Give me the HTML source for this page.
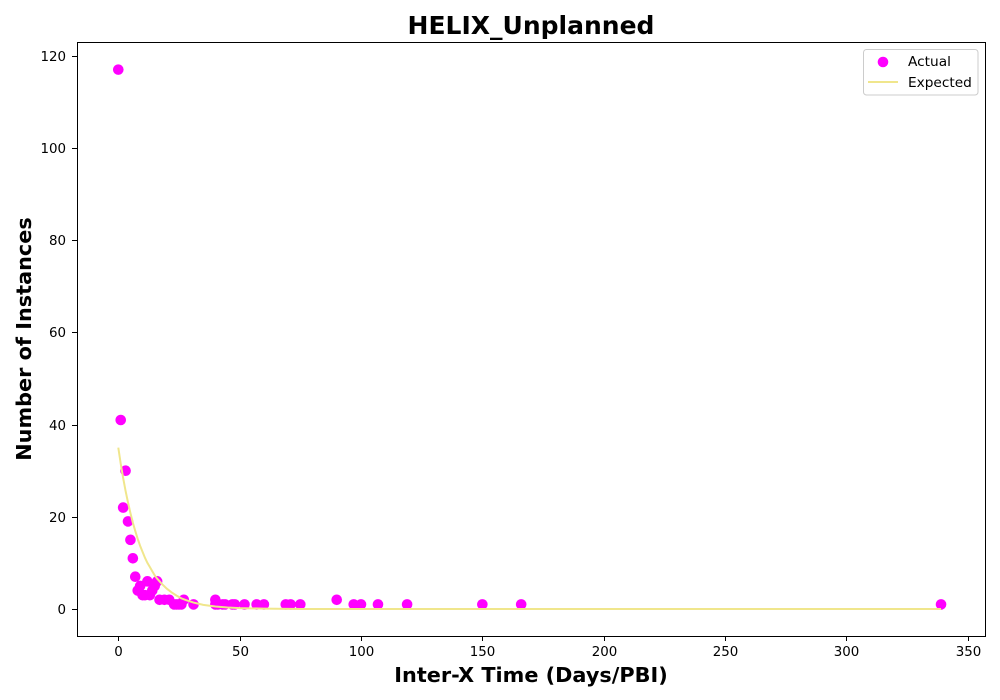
<!DOCTYPE html>
<html lang="en">
<head>
<meta charset="utf-8">
<title>HELIX_Unplanned</title>
<style>
html,body{margin:0;padding:0;background:#fff;}
body{width:1000px;height:700px;overflow:hidden;}
svg{display:block;font-family:"DejaVu Sans","Liberation Sans",sans-serif;}
</style>
</head>
<body>
<svg id="chart" xmlns="http://www.w3.org/2000/svg" width="1000" height="700" viewBox="0 0 1000 700">
  <rect x="0" y="0" width="1000" height="700" fill="#ffffff"/>
  <text x="531" y="34" font-size="25px" font-weight="700" text-anchor="middle" fill="#000">HELIX_Unplanned</text>
  <text x="531" y="682" font-size="20.8px" font-weight="700" text-anchor="middle" fill="#000">Inter-X Time (Days/PBI)</text>
  <text transform="translate(31,339) rotate(-90)" font-size="20.8px" font-weight="700" text-anchor="middle" fill="#000">Number of Instances</text>
  <g id="x-ticks"></g>
  <g id="y-ticks"></g>
  <g id="actual-series"></g>
  <polyline id="expected-line" fill="none" stroke="#f0e68c" stroke-width="2"/>
  <rect x="77.5" y="42.5" width="908" height="594" fill="none" stroke="#000" stroke-width="1" shape-rendering="crispEdges"/>
  <g>
    <rect x="863.5" y="49.5" width="114.5" height="45.5" rx="3" ry="3" fill="#ffffff" fill-opacity="0.8" stroke="#cccccc" stroke-width="1"/>
    <circle cx="883" cy="62" r="5.3" fill="#ff00ff"/>
    <text x="908" y="66" font-size="13.7px" fill="#000">Actual</text>
    <line x1="868" y1="82" x2="898" y2="82" stroke="#f0e68c" stroke-width="2"/>
    <text x="908" y="87" font-size="13.7px" fill="#000">Expected</text>
  </g>
</svg>
<script>
const xTickLabels = [0, 50, 100, 150, 200, 250, 300, 350];
const yTickLabels = [0, 20, 40, 60, 80, 100, 120];
const actualX = [0, 1, 2, 3, 4, 5, 6, 7, 8, 9, 10, 11, 12, 13, 14, 15, 16, 17, 19, 21, 23, 24, 25, 26, 27, 31, 40, 40, 41, 43, 44, 47, 48, 52, 57, 60, 69, 71, 75, 90, 97, 100, 107, 119, 150, 166, 339];
const actualY = [117, 41, 22, 30, 19, 15, 11, 7, 4, 5, 3, 3, 6, 3, 4, 5, 6, 2, 2, 2, 1, 1, 1, 1, 2, 1, 1, 2, 1, 1, 1, 1, 1, 1, 1, 1, 1, 1, 1, 2, 1, 1, 1, 1, 1, 1, 1];
const expectedX = [0, 1, 2, 3, 4, 5, 6, 7, 8, 9, 10, 11, 12, 13, 14, 15, 16, 17, 18, 19, 20, 22, 24, 26, 28, 31, 35, 40, 45, 50, 60, 75, 100, 339];
const expectedY = [35, 31.5, 28.4, 25.6, 23.1, 20.8, 18.7, 16.9, 15.2, 13.7, 12.4, 11.1, 10, 9.1, 8.2, 7.3, 6.6, 6, 5.4, 4.9, 4.4, 3.6, 2.9, 2.3, 1.9, 1.4, 0.9, 0.55, 0.33, 0.2, 0.07, 0.01, 0, 0];

const svgNS = 'http://www.w3.org/2000/svg';
function xScale(v) { return 118.3 + v * 2.427; }
function yScale(v) { return 609 - v * 4.61; }

const xTickGroup = document.getElementById('x-ticks');
xTickLabels.forEach(function (t) {
  const px = Math.round(xScale(t)) + 0.5;
  const tick = document.createElementNS(svgNS, 'line');
  
  
  tick.setAttribute('x1', px);
  tick.setAttribute('x2', px);
  tick.setAttribute('y1', 636);
  tick.setAttribute('y2', 641);
  tick.setAttribute('stroke', '#000');
  tick.setAttribute('shape-rendering', 'crispEdges');
  xTickGroup.appendChild(tick);
  const label = document.createElementNS(svgNS, 'text');
  
  
  label.setAttribute('x', px);
  label.setAttribute('y', 656);
  label.setAttribute('font-size', '13.4px');
  label.setAttribute('text-anchor', 'middle');
  label.textContent = t;
  xTickGroup.appendChild(label);
});

const yTickGroup = document.getElementById('y-ticks');
yTickLabels.forEach(function (t) {
  const py = Math.round(yScale(t)) + 0.5;
  const tick = document.createElementNS(svgNS, 'line');
  
  
  tick.setAttribute('x1', 72);
  tick.setAttribute('x2', 77);
  tick.setAttribute('y1', py);
  tick.setAttribute('y2', py);
  tick.setAttribute('stroke', '#000');
  tick.setAttribute('shape-rendering', 'crispEdges');
  yTickGroup.appendChild(tick);
  const label = document.createElementNS(svgNS, 'text');
  
  
  label.setAttribute('x', 66);
  label.setAttribute('y', py + 4.5);
  label.setAttribute('font-size', '13.4px');
  label.setAttribute('text-anchor', 'end');
  label.textContent = t;
  yTickGroup.appendChild(label);
});

const actualGroup = document.getElementById('actual-series');
actualX.forEach(function (v, i) {
  const dot = document.createElementNS(svgNS, 'circle');
  
  
  dot.setAttribute('cx', xScale(v));
  dot.setAttribute('cy', yScale(actualY[i]));
  dot.setAttribute('r', 5.3);
  dot.setAttribute('fill', '#ff00ff');
  actualGroup.appendChild(dot);
});

document.getElementById('expected-line').setAttribute('points', expectedX.map(function (v, i) {
  return xScale(v) + ',' + yScale(expectedY[i]);
}).join(' '));
</script>
</body>
</html>
